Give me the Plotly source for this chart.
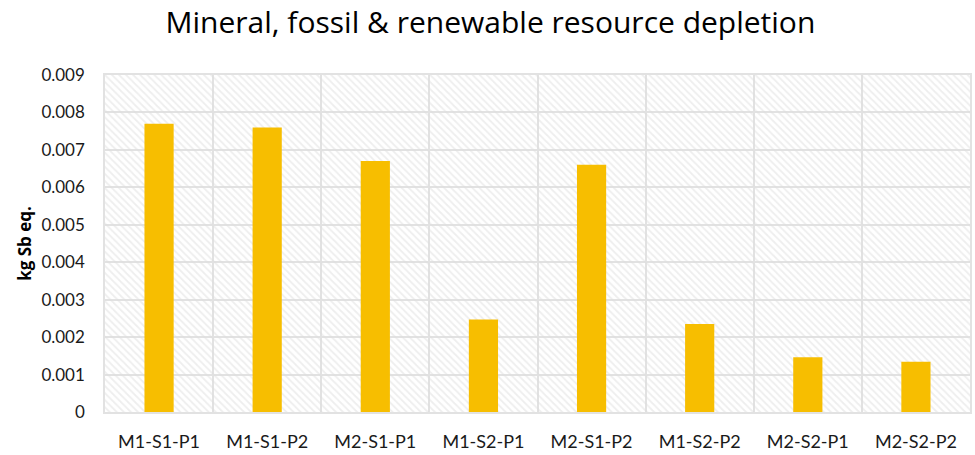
import plotly.graph_objects as go

# Resource depletion per scenario (kg Sb eq.)
scenarios = ["M1-S1-P1", "M1-S1-P2", "M2-S1-P1", "M1-S2-P1",
             "M2-S1-P2", "M1-S2-P2", "M2-S2-P1", "M2-S2-P2"]
depletion = [0.0077, 0.0076, 0.0067, 0.00247, 0.0066, 0.00235, 0.00146, 0.00134]

y_max = 0.009
y_ticks = [0, 0.001, 0.002, 0.003, 0.004, 0.005, 0.006, 0.007, 0.008, 0.009]
y_tick_text = ["0", "0.001", "0.002", "0.003", "0.004", "0.005",
               "0.006", "0.007", "0.008", "0.009"]

FONT = "Lato"
TITLE_FONT = "Open Sans"
GRID = "#e2e2e2"

fig = go.Figure()

# Hatched plot-area background: full-width bars spanning the axis range
fig.add_trace(go.Bar(
    x=scenarios,
    y=[y_max] * len(scenarios),
    width=1,
    marker=dict(
        color="rgba(0,0,0,0)",
        line=dict(width=0),
        pattern=dict(shape="\\", fgcolor="#dedede", bgcolor="rgba(0,0,0,0)",
                     size=5, solidity=0.35, fillmode="overlay"),
    ),
    hoverinfo="skip",
    showlegend=False,
))

fig.add_trace(go.Bar(
    x=scenarios,
    y=depletion,
    width=0.27,
    marker=dict(color="#F7BE00", line=dict(width=0)),
    showlegend=False,
))

fig.update_layout(
    width=975,
    height=455,
    margin=dict(l=105, r=3, t=75, b=41),
    paper_bgcolor="white",
    plot_bgcolor="white",
    barmode="overlay",
    font=dict(family=FONT, color="#1a1a1a"),
    title=dict(
        text="Mineral, fossil & renewable resource depletion",
        x=0.503, xanchor="center", y=0.95, yanchor="middle",
        font=dict(family=TITLE_FONT, size=30, color="#000000"),
    ),
)

fig.update_xaxes(
    type="category",
    tickson="boundaries",
    showgrid=True, gridcolor=GRID, gridwidth=1.5,
    showline=True, linecolor=GRID, linewidth=1.5, mirror=True,
    ticks="", ticklabelstandoff=13,
    tickfont=dict(family=FONT, size=18, color="#1a1a1a"),
    range=[-0.5, 7.5],
)

fig.update_yaxes(
    range=[0, y_max],
    tickvals=y_ticks, ticktext=y_tick_text,
    showgrid=True, gridcolor=GRID, gridwidth=1.5,
    showline=True, linecolor=GRID, linewidth=1.5, mirror=True,
    zeroline=False,
    ticks="", ticklabelstandoff=15,
    tickfont=dict(family=FONT, size=17, color="#1a1a1a"),
    title=dict(text="<b>kg Sb eq.</b>", standoff=5,
               font=dict(family=TITLE_FONT, size=17, color="#000000")),
)

fig.write_html("out.html")
